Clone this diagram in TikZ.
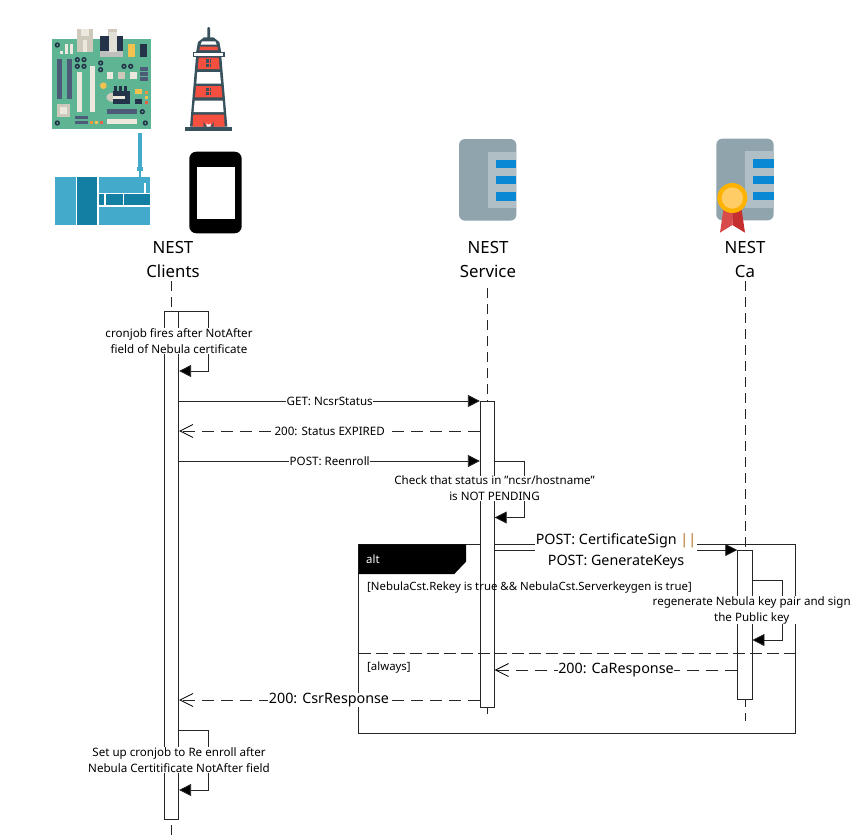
\documentclass[tikz,border=0pt]{standalone}
\usepackage{fontspec}
\setmainfont{Noto Sans}
\usetikzlibrary{arrows.meta,calc}
\definecolor{bgreen}{HTML}{5DB594}
\definecolor{bdark}{HTML}{25334A}
\definecolor{bslot}{HTML}{4D5A78}
\definecolor{bwhite}{HTML}{ECE8DD}
\definecolor{bbeige}{HTML}{CFC9BB}
\definecolor{byellow}{HTML}{F2C14E}
\definecolor{borange}{HTML}{F0923C}
\definecolor{bred}{HTML}{E8604C}
\definecolor{lhdark}{HTML}{37525C}
\definecolor{lhred}{HTML}{F44F3F}
\definecolor{blight}{HTML}{43AACB}
\definecolor{bdeep}{HTML}{127FA3}
\definecolor{srvbody}{HTML}{90A4AE}
\definecolor{srvpanel}{HTML}{B0BEC5}
\definecolor{srvblue}{HTML}{0A88D4}
\definecolor{ribbonL}{HTML}{D94A4A}
\definecolor{ribbonR}{HTML}{C62F2F}
\definecolor{medalring}{HTML}{FFB300}
\definecolor{medalcore}{HTML}{FFCC66}
\definecolor{barcolor}{HTML}{B5701E}
\tikzset{
  x=1pt,y=-1pt,
  wire/.style={draw=black!85,line width=0.8pt},
  lifeline/.style={wire,dash pattern=on 10pt off 6pt},
  activation/.style={wire,fill=white},
  msg/.style={wire,-{Triangle[length=12pt,width=12pt,fill=black]}},
  reply/.style={wire,dash pattern=on 12pt off 7pt,-{Straight Barb[length=13pt,width=13pt,black]}},
  lbl/.style={fill=white,inner sep=0.5pt,align=center,font=\fontsize{11.6}{16}\selectfont},
  biglbl/.style={fill=white,inner sep=0.5pt,align=center,font=\fontsize{14.3}{20.5}\selectfont},
  actor/.style={inner sep=0pt,align=center,font=\fontsize{16.8}{24}\selectfont},
  plain/.style={inner sep=0pt,anchor=west,font=\fontsize{11.4}{14}\selectfont},
}
\newcommand{\bx}[3]{\fill[#1] (#2) rectangle (#3);}
\newcommand{\hole}[1]{\fill[bdark] (#1) circle (8); \fill[bgreen] (#1) circle (3);}
\newcommand{\srvicon}{%
  \fill[srvbody,rounded corners=6pt] (57,27) rectangle (229,272);
  \fill[srvpanel] (143,65) rectangle (229,235);
  \bx{srvblue}{167,89}{229,114}
  \bx{srvblue}{167,138}{229,162}
  \bx{srvblue}{167,187}{229,212}
}
\begin{document}
\begin{tikzpicture}
\useasboundingbox (0,0) rectangle (857,839);
\fill[white] (0,0) rectangle (857,839);
% ---------- motherboard icon
\begin{scope}[shift={(48,25)},scale=0.33333]
  \bx{bbeige}{88,12}{136,82}
  \bx{bwhite}{100,12}{122,82}
  \bx{bgreen}{12,42}{308,312}
  \bx{bbeige}{88,32}{136,82}
  \bx{bwhite}{106,46}{116,80}
  \bx{bbeige}{180,12}{208,32}
  \bx{bdark}{156,32}{226,78}
  \bx{lightgray}{156,78}{226,96}
  \bx{bbeige!60}{182,22}{206,80}
  \bx{byellow}{240,58}{260,97}
  \bx{bdark}{276,58}{296,97}
  \bx{bwhite}{36,78}{46,88}
  \bx{bwhite}{52,58}{60,88}
  \bx{bwhite}{66,58}{76,88}
  \bx{bslot}{27,102}{42,222}
  \bx{bslot}{57,102}{72,222}
  \bx{bwhite}{86,142}{102,262}
  \bx{bwhite}{126,122}{142,262}
  \hole{88,104}\hole{108,104}\hole{88,124}\hole{108,124}
  \hole{158,114}\hole{158,134}\hole{228,124}\hole{248,124}
  \hole{28,60}\hole{283,260}\hole{28,294}\hole{292,294}
  \bx{bslot}{276,127}{300,137}
  \bx{bslot}{276,142}{300,152}
  \bx{bslot}{276,157}{300,167}
  \bx{bwhite}{176,142}{196,162}
  \bx{bbeige}{211,142}{231,162}
  \bx{bwhite}{246,142}{266,162}
  \fill[byellow] (166,182) circle (10);
  \fill[bbeige] (176,212) -- (186,204) -- (200,204) -- (200,230) -- (186,230) -- (176,222) -- cycle;
  \bx{bdark}{196,197}{246,237}
  \bx{bdark}{198,182}{206,197}
  \bx{bdark}{213,182}{221,197}
  \bx{bdark}{228,182}{236,197}
  \bx{bwhite}{196,212}{231,222}
  \bx{byellow}{261,192}{281,207}
  \bx{bdark}{261,222}{281,237}
  \bx{borange}{291,197}{300,207}
  \bx{byellow}{291,212}{300,222}
  \bx{bred}{291,227}{300,237}
  \bx{bbeige}{27,237}{67,277}
  \bx{bwhite}{37,247}{57,267}
  \bx{bslot}{176,252}{266,267}
  \bx{bslot}{81,272}{121,282}
  \bx{bslot}{81,287}{121,297}
  \bx{borange}{126,287}{136,297}
  \bx{byellow}{141,287}{151,297}
  \bx{bred}{156,287}{166,297}
  \bx{bwhite}{176,282}{266,297}
\end{scope}
% ---------- lighthouse icon
\begin{scope}[shift={(180,22)},scale=0.33333]
  \fill[lhdark,rounded corners=1pt] (82,15) rectangle (90,50);
  \fill[lhdark] (48,92) -- (54,60) -- (72,46) -- (100,46) -- (118,60) -- (124,92) -- cycle;
  \fill[white] (66,58) -- (106,58) -- (110,68) -- (62,68) -- cycle;
  \fill[lhred] (60,74) -- (112,74) -- (114,84) -- (58,84) -- cycle;
  \fill[lhdark] (48,104) -- (124,104) -- (142,314) -- (30,314) -- cycle;
  \fill[lhred] (56,107) -- (116,107) -- (119,141) -- (53,141) -- cycle;
  \fill[white] (52,150) -- (120,150) -- (123,185) -- (49,185) -- cycle;
  \fill[lhred] (48,192) -- (124,192) -- (127,226) -- (45,226) -- cycle;
  \fill[white] (44,236) -- (128,236) -- (131,270) -- (41,270) -- cycle;
  \fill[lhred] (40,278) -- (132,278) -- (134,314) -- (38,314) -- cycle;
  \bx{lhdark}{78,112}{94,134}
  \bx{lhdark}{78,197}{94,220}
  \draw[lhred,line width=0.3pt] (86,112) -- (86,134) (78,123) -- (94,123) (86,197) -- (86,220) (78,208) -- (94,208);
  \fill[lhdark] (71,314) -- (71,298) arc[start angle=180,end angle=0,radius=15] -- (101,314) -- cycle;
  \fill[white] (80,314) -- (80,302) arc[start angle=180,end angle=0,radius=6] -- (92,314) -- cycle;
  \fill[lhdark] (38,90) rectangle (134,105);
  \fill[white] (42,93) rectangle (130,101);
  \fill[lhdark] (15,314) rectangle (157,328);
\end{scope}
% ---------- network block icon
\begin{scope}[shift={(50,130)},scale=0.33333]
  \bx{blight}{264,10}{277,114}
  \bx{blight}{261,112}{279,124}
  \bx{blight}{267,124}{273,140}
  \bx{blight}{16,140}{77,284}
  \bx{bdeep}{82,140}{142,284}
  \bx{blight}{148,140}{300,188}
  \bx{white}{283,160}{288,188}
  \bx{bdeep}{148,193}{163,226}
  \bx{bdeep}{168,193}{218,226}
  \bx{bdeep}{222,193}{300,226}
  \bx{blight}{148,232}{300,284}
\end{scope}
% ---------- phone icon
\fill[black,rounded corners=7pt] (189.3,151.7) rectangle (241.7,233.3);
\fill[white] (196.7,166.7) rectangle (234.7,219);
% ---------- service and ca icons
\begin{scope}[shift={(440,130)},scale=0.33333]
  \srvicon
\end{scope}
\begin{scope}[shift={(697.3,129.7)},scale=0.33333]
  \srvicon
\end{scope}
\begin{scope}[shift={(440,130)},scale=0.33333]
  \fill[ribbonR] (877,240) -- (905,240) -- (915,308) -- (877,285) -- cycle;
  \fill[ribbonL] (850,240) -- (877,240) -- (877,285) -- (840,308) -- cycle;
  \fill[medalring] (877,204) circle (45);
  \fill[medalcore] (877,204) circle (32);
\end{scope}
% ---------- actor labels
\node[actor] (clients) at (173,259.7) {NEST\\Clients};
\node[actor] (service) at (488,259.7) {NEST\\Service};
\node[actor] (ca) at (745,259.7) {NEST\\Ca};
% ---------- named points
\coordinate (cTop) at (171.7,281);
\coordinate (cL) at (164.7,311.7);
\coordinate (cEnd) at (171.7,839);
\coordinate (sTop) at (487.7,288);
\coordinate (sEnd) at (487.7,716);
\coordinate (aTop) at (745,281);
\coordinate (aEnd) at (745,721);
% ---------- frame
\draw[wire,fill=white] (358.7,544.3) rectangle (795,733.3);
\fill[black] (358.7,544.3) -- (466,544.3) -- (466,561.7) -- (454.3,574) -- (358.7,574) -- cycle;
\node[inner sep=0pt,anchor=west,text=white,font=\fontsize{11.4}{14}\selectfont\bfseries] (alt) at (366,559) {alt};
% ---------- lifelines
\draw[lifeline] (cTop) -- (cEnd);
\draw[lifeline] (sTop) -- (sEnd);
\draw[lifeline] (aTop) -- (aEnd);
% ---------- activations
\node[activation,minimum width=14pt,minimum height=507.3pt,inner sep=0pt] (actC) at (171.7,565.35) {};
\node[activation,minimum width=14pt,minimum height=306.3pt,inner sep=0pt] (actS) at (487.3,554.15) {};
\node[activation,minimum width=14.3pt,minimum height=149.3pt,inner sep=0pt] (actA) at (744.85,624.65) {};
\draw[wire,dash pattern=on 12pt off 5pt] (358.7,653.3) -- (795,653.3);
\node[plain] (guard1) at (367,587.5) {[NebulaCst.Rekey is true \&\& NebulaCst.Serverkeygen is true]};
\node[plain] (guard2) at (367,668) {[always]};
\coordinate (cR1) at (actC.east |- 0,311.7);
\coordinate (cR2) at (actC.east |- 0,371);
\coordinate (cR3) at (actC.east |- 0,401);
\coordinate (cR4) at (actC.east |- 0,431);
\coordinate (cR5) at (actC.east |- 0,461);
\coordinate (cR6) at (actC.east |- 0,700);
\coordinate (cR7) at (actC.east |- 0,730);
\coordinate (cR8) at (actC.east |- 0,790);
\coordinate (sL1) at (actS.west |- 0,401);
\coordinate (sL2) at (actS.west |- 0,431);
\coordinate (sL3) at (actS.west |- 0,461);
\coordinate (sL4) at (actS.west |- 0,700);
\coordinate (sR1) at (actS.east |- 0,461);
\coordinate (sR2) at (actS.east |- 0,517.5);
\coordinate (sR3) at (actS.east |- 0,550);
\coordinate (sR4) at (actS.east |- 0,670);
\coordinate (aL1) at (actA.west |- 0,550);
\coordinate (aL2) at (actA.west |- 0,670);
\coordinate (aR1) at (actA.east |- 0,580);
\coordinate (aR2) at (actA.east |- 0,640);
% ---------- self messages
\draw[wire] (cL) -- (cR1);
\draw[msg] (cR1) -- (208.7,311.7) -- (208.7,371) -- (cR2);
\draw[msg] (sR1) -- (524.3,461) -- (524.3,517.5) -- (sR2);
\draw[msg] (aR1) -- (782,580) -- (782,640) -- (aR2);
\draw[msg] (cR7) -- (208.7,730) -- (208.7,790) -- (cR8);
% ---------- messages
\draw[msg] (cR3) -- (sL1);
\draw[reply] (sL2) -- (cR4);
\draw[msg] (cR5) -- (sL3);
\draw[msg] (sR3) -- (aL1);
\draw[reply] (aL2) -- (sR4);
\draw[reply] (sL4) -- (cR6);
% ---------- labels
\node[lbl] (m1) at (179,341) {cronjob fires after NotAfter\\field of Nebula certificate};
\node[lbl] (m2) at (329.7,401) {GET: NcsrStatus};
\node[lbl] (m3) at (329.7,431) {200: Status EXPIRED};
\node[lbl] (m4) at (329.7,461) {POST: Reenroll};
\node[lbl] (m5) at (494.5,488.5) {Check that status in "ncsr/hostname"\\is NOT PENDING};
\node[biglbl] (m6) at (616,551) {POST: CertificateSign {\color{barcolor}||}\\POST: GenerateKeys};
\node[lbl] (m7) at (751.7,610) {regenerate Nebula key pair and sign\\the Public key};
\node[biglbl] (m8) at (616,670) {200: CaResponse};
\node[biglbl] (m9) at (329,700) {200: CsrResponse};
\node[lbl] (m10) at (179,760) {Set up cronjob to Re enroll after\\Nebula Certitificate NotAfter field};
\end{tikzpicture}
\end{document}
